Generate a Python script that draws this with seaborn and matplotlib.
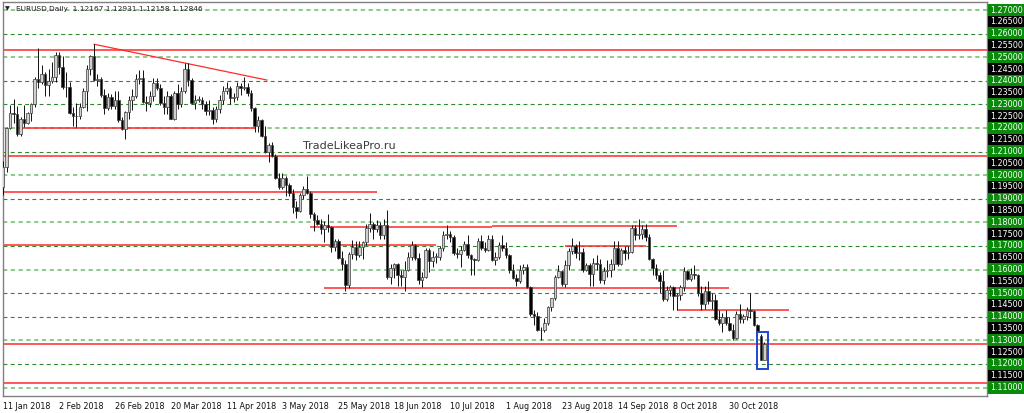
import matplotlib
matplotlib.use('Agg')
import matplotlib.pyplot as plt
from matplotlib.patches import Rectangle
import numpy as np
import pandas as pd
import seaborn as sns

sns.set_style('white')
plt.rcParams['font.family'] = ['DejaVu Sans']

# EURUSD daily bars, 11 Jan 2018 - 13 Nov 2018
dates = pd.bdate_range('2018-01-11', '2018-11-13')

opens = [
    1.1950, 1.2035,
    1.2200, 1.2265, 1.2260, 1.2175, 1.2237,
    1.2222, 1.2262, 1.2300, 1.2408, 1.2397,
    1.2428, 1.2383, 1.2400, 1.2415, 1.2510,
    1.2459, 1.2372, 1.2375, 1.2265, 1.2250,
    1.2250, 1.2290, 1.2355, 1.2450, 1.2505,
    1.2405, 1.2408, 1.2338, 1.2285, 1.2330,
    1.2295, 1.2318, 1.2232, 1.2195, 1.2268,
    1.2317, 1.2337, 1.2408, 1.2410, 1.2310,
    1.2306, 1.2336, 1.2390, 1.2370, 1.2306,
    1.2290, 1.2336, 1.2240, 1.2350, 1.2300,
    1.2355, 1.2450, 1.2405, 1.2305, 1.2320,
    1.2320, 1.2300, 1.2270, 1.2278, 1.2238,
    1.2280, 1.2320, 1.2355, 1.2370, 1.2325,
    1.2330, 1.2380, 1.2370, 1.2375, 1.2350,
    1.2285, 1.2210, 1.2235, 1.2165, 1.2100,
    1.2130, 1.2080, 1.1990, 1.1950, 1.1990,
    1.1960, 1.1925, 1.1865, 1.1850, 1.1915,
    1.1940, 1.1925, 1.1835, 1.1810, 1.1795,
    1.1770, 1.1790, 1.1780, 1.1695, 1.1720,
    1.1650, 1.1625, 1.1535, 1.1665, 1.1695,
    1.1660, 1.1695, 1.1715, 1.1775, 1.1795,
    1.1770, 1.1790, 1.1745, 1.1790, 1.1570,
    1.1605, 1.1625, 1.1575, 1.1570, 1.1600,
    1.1655, 1.1705, 1.1650, 1.1555, 1.1570,
    1.1685, 1.1635, 1.1655, 1.1655, 1.1690,
    1.1745, 1.1750, 1.1740, 1.1670, 1.1665,
    1.1685, 1.1710, 1.1660, 1.1643, 1.1640,
    1.1720, 1.1690, 1.1685, 1.1730, 1.1640,
    1.1655, 1.1705, 1.1690, 1.1660, 1.1600,
    1.1565, 1.1550, 1.1600, 1.1610, 1.1525,
    1.1410, 1.1405, 1.1345, 1.1342, 1.1375,
    1.1440, 1.1478, 1.1570, 1.1595, 1.1540,
    1.1620, 1.1680, 1.1700, 1.1670, 1.1675,
    1.1600, 1.1620, 1.1580, 1.1630, 1.1625,
    1.1555, 1.1595, 1.1600, 1.1625, 1.1690,
    1.1625, 1.1685, 1.1670, 1.1675, 1.1775,
    1.1745, 1.1750, 1.1770, 1.1740, 1.1645,
    1.1605, 1.1575, 1.1550, 1.1475, 1.1515,
    1.1525, 1.1490, 1.1492, 1.1525, 1.1595,
    1.1560, 1.1580, 1.1575, 1.1500, 1.1455,
    1.1510, 1.1465, 1.1470, 1.1390, 1.1375,
    1.1400, 1.1375, 1.1345, 1.1310, 1.1410,
    1.1390, 1.1405, 1.1430, 1.1425, 1.1365,
    1.1320, 1.12167,
]
highs = [
    1.2060, 1.2205,
    1.2296, 1.2323, 1.2295, 1.2245, 1.2297,
    1.2269, 1.2308, 1.2414, 1.2537, 1.2466,
    1.2437, 1.2450, 1.2481, 1.2523, 1.2520,
    1.2506, 1.2437, 1.2394, 1.2290, 1.2305,
    1.2306, 1.2371, 1.2468, 1.2510, 1.2555,
    1.2430, 1.2414, 1.2365, 1.2350, 1.2345,
    1.2355, 1.2355, 1.2245, 1.2273, 1.2336,
    1.2365, 1.2430, 1.2446, 1.2446, 1.2335,
    1.2355, 1.2413, 1.2413, 1.2388, 1.2335,
    1.2357, 1.2345, 1.2355, 1.2388, 1.2375,
    1.2475, 1.2476, 1.2410, 1.2339, 1.2336,
    1.2330, 1.2315, 1.2320, 1.2291, 1.2293,
    1.2340, 1.2380, 1.2396, 1.2376, 1.2349,
    1.2395, 1.2390, 1.2414, 1.2390, 1.2360,
    1.2290, 1.2250, 1.2240, 1.2210, 1.2135,
    1.2140, 1.2090, 1.2010, 1.2010, 1.1995,
    1.1965, 1.1940, 1.1890, 1.1925, 1.1955,
    1.1995, 1.1935, 1.1845, 1.1830, 1.1815,
    1.1805, 1.1834, 1.1785, 1.1730, 1.1730,
    1.1680, 1.1640, 1.1675, 1.1725, 1.1720,
    1.1720, 1.1720, 1.1795, 1.1840, 1.1800,
    1.1810, 1.1800, 1.1815, 1.1852, 1.1625,
    1.1630, 1.1630, 1.1600, 1.1635, 1.1675,
    1.1720, 1.1710, 1.1670, 1.1590, 1.1690,
    1.1690, 1.1680, 1.1670, 1.1700, 1.1765,
    1.1790, 1.1765, 1.1745, 1.1690, 1.1700,
    1.1720, 1.1745, 1.1665, 1.1650, 1.1735,
    1.1745, 1.1715, 1.1745, 1.1745, 1.1675,
    1.1715, 1.1745, 1.1715, 1.1665, 1.1625,
    1.1580, 1.1620, 1.1625, 1.1625, 1.1530,
    1.1430, 1.1420, 1.1355, 1.1395, 1.1445,
    1.1480, 1.1575, 1.1620, 1.1600, 1.1640,
    1.1690, 1.1735, 1.1710, 1.1720, 1.1690,
    1.1630, 1.1630, 1.1650, 1.1660, 1.1645,
    1.1610, 1.1640, 1.1645, 1.1720, 1.1720,
    1.1690, 1.1700, 1.1700, 1.1790, 1.1790,
    1.1815, 1.1790, 1.1795, 1.1750, 1.1650,
    1.1625, 1.1590, 1.1600, 1.1530, 1.1535,
    1.1530, 1.1500, 1.1535, 1.1610, 1.1600,
    1.1605, 1.1620, 1.1580, 1.1530, 1.1530,
    1.1550, 1.1500, 1.1495, 1.1430, 1.1415,
    1.1430, 1.1400, 1.1370, 1.1425, 1.1455,
    1.1410, 1.1440, 1.1500, 1.1430, 1.1370,
    1.1325, 1.12931,
]
lows = [
    1.1915, 1.2015,
    1.2195, 1.2220, 1.2165, 1.2165, 1.2203,
    1.2215, 1.2228, 1.2290, 1.2368, 1.2385,
    1.2335, 1.2337, 1.2390, 1.2397, 1.2430,
    1.2367, 1.2330, 1.2260, 1.2210, 1.2206,
    1.2240, 1.2286, 1.2274, 1.2425, 1.2400,
    1.2380, 1.2330, 1.2260, 1.2275, 1.2280,
    1.2280, 1.2226, 1.2190, 1.2154, 1.2240,
    1.2275, 1.2327, 1.2385, 1.2304, 1.2273,
    1.2290, 1.2313, 1.2360, 1.2297, 1.2260,
    1.2260, 1.2239, 1.2235, 1.2282, 1.2290,
    1.2350, 1.2380, 1.2300, 1.2280, 1.2310,
    1.2280, 1.2255, 1.2255, 1.2215, 1.2225,
    1.2262, 1.2300, 1.2342, 1.2300, 1.2310,
    1.2320, 1.2340, 1.2360, 1.2335, 1.2270,
    1.2182, 1.2185, 1.2160, 1.2095, 1.2055,
    1.2075, 1.1985, 1.1940, 1.1940, 1.1911,
    1.1910, 1.1838, 1.1820, 1.1845, 1.1900,
    1.1920, 1.1820, 1.1763, 1.1790, 1.1750,
    1.1716, 1.1760, 1.1675, 1.1677, 1.1645,
    1.1600, 1.1510, 1.1520, 1.1645, 1.1640,
    1.1655, 1.1645, 1.1705, 1.1760, 1.1730,
    1.1760, 1.1730, 1.1730, 1.1562, 1.1540,
    1.1565, 1.1530, 1.1530, 1.1510, 1.1595,
    1.1640, 1.1640, 1.1540, 1.1525, 1.1565,
    1.1590, 1.1610, 1.1630, 1.1640, 1.1680,
    1.1730, 1.1715, 1.1660, 1.1650, 1.1610,
    1.1680, 1.1650, 1.1575, 1.1575, 1.1635,
    1.1685, 1.1675, 1.1680, 1.1635, 1.1620,
    1.1645, 1.1680, 1.1650, 1.1585, 1.1560,
    1.1530, 1.1545, 1.1580, 1.1520, 1.1405,
    1.1365, 1.1340, 1.1300, 1.1335, 1.1365,
    1.1425, 1.1470, 1.1565, 1.1530, 1.1525,
    1.1600, 1.1665, 1.1650, 1.1640, 1.1590,
    1.1595, 1.1530, 1.1530, 1.1600, 1.1545,
    1.1540, 1.1570, 1.1570, 1.1600, 1.1615,
    1.1620, 1.1640, 1.1645, 1.1670, 1.1725,
    1.1730, 1.1730, 1.1720, 1.1640, 1.1575,
    1.1560, 1.1500, 1.1465, 1.1465, 1.1490,
    1.1430, 1.1430, 1.1470, 1.1510, 1.1555,
    1.1550, 1.1560, 1.1490, 1.1430, 1.1435,
    1.1455, 1.1435, 1.1385, 1.1365, 1.1335,
    1.1365, 1.1340, 1.1300, 1.1305, 1.1375,
    1.1375, 1.1385, 1.1395, 1.1360, 1.1325,
    1.1215, 1.12158,
]
closes = [
    1.2035, 1.2200,
    1.2265, 1.2260, 1.2175, 1.2237, 1.2222,
    1.2262, 1.2300, 1.2408, 1.2397, 1.2428,
    1.2383, 1.2400, 1.2415, 1.2510, 1.2459,
    1.2372, 1.2375, 1.2265, 1.2250, 1.2250,
    1.2290, 1.2355, 1.2450, 1.2505, 1.2405,
    1.2408, 1.2338, 1.2285, 1.2330, 1.2295,
    1.2318, 1.2232, 1.2195, 1.2268, 1.2317,
    1.2337, 1.2408, 1.2410, 1.2310, 1.2306,
    1.2336, 1.2390, 1.2370, 1.2306, 1.2290,
    1.2336, 1.2240, 1.2350, 1.2300, 1.2355,
    1.2450, 1.2405, 1.2305, 1.2320, 1.2320,
    1.2300, 1.2270, 1.2278, 1.2238, 1.2280,
    1.2320, 1.2355, 1.2370, 1.2325, 1.2330,
    1.2380, 1.2370, 1.2375, 1.2350, 1.2285,
    1.2210, 1.2235, 1.2165, 1.2100, 1.2130,
    1.2080, 1.1990, 1.1950, 1.1990, 1.1960,
    1.1925, 1.1865, 1.1850, 1.1915, 1.1940,
    1.1925, 1.1835, 1.1810, 1.1795, 1.1770,
    1.1790, 1.1780, 1.1695, 1.1720, 1.1650,
    1.1625, 1.1535, 1.1665, 1.1695, 1.1660,
    1.1695, 1.1715, 1.1775, 1.1795, 1.1770,
    1.1790, 1.1745, 1.1790, 1.1570, 1.1605,
    1.1625, 1.1575, 1.1570, 1.1600, 1.1655,
    1.1705, 1.1650, 1.1555, 1.1570, 1.1685,
    1.1635, 1.1655, 1.1655, 1.1690, 1.1745,
    1.1750, 1.1740, 1.1670, 1.1665, 1.1685,
    1.1710, 1.1660, 1.1643, 1.1640, 1.1720,
    1.1690, 1.1685, 1.1730, 1.1640, 1.1655,
    1.1705, 1.1690, 1.1660, 1.1600, 1.1565,
    1.1550, 1.1600, 1.1610, 1.1525, 1.1410,
    1.1405, 1.1345, 1.1342, 1.1375, 1.1440,
    1.1478, 1.1570, 1.1595, 1.1540, 1.1620,
    1.1680, 1.1700, 1.1670, 1.1675, 1.1600,
    1.1620, 1.1580, 1.1630, 1.1625, 1.1555,
    1.1595, 1.1600, 1.1625, 1.1690, 1.1625,
    1.1685, 1.1670, 1.1675, 1.1775, 1.1745,
    1.1750, 1.1770, 1.1740, 1.1645, 1.1605,
    1.1575, 1.1550, 1.1475, 1.1515, 1.1525,
    1.1490, 1.1492, 1.1525, 1.1595, 1.1560,
    1.1580, 1.1575, 1.1500, 1.1455, 1.1510,
    1.1465, 1.1470, 1.1390, 1.1375, 1.1400,
    1.1375, 1.1345, 1.1310, 1.1410, 1.1390,
    1.1405, 1.1430, 1.1425, 1.1365, 1.1335,
    1.12167, 1.12846,
]

# drawn levels: (price, first bar, last bar); None = whole width
red_levels = [
    (1.2530, None, None),
    (1.2201, 4, 72),
    (1.2081, None, None),
    (1.1928, None, 107),
    (1.1780, 88, 140),
    (1.1784, 140, 193),
    (1.1704, None, 124),
    (1.1700, 161, 184),
    (1.1521, 92, 208),
    (1.1429, 193, 225),
    (1.1285, None, None),
    (1.1118, None, None),
]
trend_bars = [26, 75.6]
trend_prices = [1.2555, 1.2403]
highlight_bars = [217, 218]

grid_levels = [1.27, 1.26, 1.25, 1.24, 1.23, 1.22, 1.21, 1.20, 1.19,
               1.18, 1.17, 1.16, 1.15, 1.14, 1.13, 1.12, 1.11]
light_grid = [1.27, 1.25, 1.22, 1.20, 1.18, 1.16, 1.13, 1.11]
price_labels = [f'{1.27 - 0.005 * k:.5f}' for k in range(33)]

header = 'EURUSD,Daily  1.12167 1.12931 1.12158 1.12846'
watermark = 'TradeLikeaPro.ru'

n = len(dates)
assert n == len(opens) == len(highs) == len(lows) == len(closes)
df = pd.DataFrame({'open': opens, 'high': highs, 'low': lows, 'close': closes})
df['bar'] = np.arange(n)
df['up'] = df['close'] >= df['open']

W, H = 1024, 413
fig = plt.figure(figsize=(W / 100, H / 100), dpi=100)
ax = fig.add_axes([3 / W, 17 / H, 984 / W, 394 / H])
xmin, xmax = -0.05, 281.8
ax.set_xlim(xmin, xmax)
ax.set_ylim(1.10644, 1.27339)

# grid
for lv in grid_levels:
    if lv in light_grid:
        ax.axhline(lv, color='#8acb8a', lw=1.4, ls=(0, (2.2, 1.8)), zorder=1)
    else:
        ax.axhline(lv, color='#2a8a2a', lw=0.8, ls=(0, (3.5, 3)), zorder=1)

# red support / resistance levels
for price, b0, b1 in red_levels:
    x0 = xmin if b0 is None else b0
    x1 = xmax if b1 is None else b1
    ax.hlines(price, x0, x1, color='#ff2a2a', lw=1.1, zorder=2)

sns.lineplot(x=trend_bars, y=trend_prices, color='#ff2a2a', lw=0.9, ax=ax, zorder=2)

# candles
ax.vlines(df['bar'], df['low'], df['high'], color='#111111', lw=0.7, zorder=3)
body_lo = np.minimum(df['open'], df['close'])
body_h = np.maximum(np.abs(df['close'] - df['open']), 0.0002)
face = np.where(df['up'], '#cfcfcf', 'black')
ax.bar(df['bar'], body_h, bottom=body_lo, width=0.72, color=face,
       edgecolor='#3a3a3a', linewidth=0.5, zorder=4)

# highlighted last bars
hb = df[df['bar'].isin(highlight_bars)]
bx0 = hb['bar'].min() - 1.0
bx1 = hb['bar'].max() + 1.2
by0 = hb['low'].min() - 0.0037
by1 = hb['high'].max() + 0.0011
ax.add_patch(Rectangle((bx0, by0), bx1 - bx0, by1 - by0, fill=False,
                       edgecolor='#1f44d8', lw=1.4, zorder=5))

# price scale on the right
ytr = ax.get_yaxis_transform()
for lab in price_labels:
    p = float(lab)
    green = abs(round(p * 100) - p * 100) < 1e-6
    ax.text(1 + 3 / 984, p, lab, transform=ytr, ha='left', va='center',
            fontsize=5.8, color='white', clip_on=False,
            bbox=dict(boxstyle='square,pad=0.2', fc='#0a8a0a' if green else 'black',
                      ec='none'))
ax.set_yticks([])

# time scale
tick_bars = list(range(0, n, 16))
tick_labels = [f'{dates[i].day} {dates[i]:%b %Y}' for i in tick_bars]
ax.set_xticks(tick_bars)
ax.set_xticklabels(tick_labels, fontsize=5.8, ha='left', color='#111111')
ax.tick_params(axis='x', direction='out', length=3, width=0.8, color='#333333', pad=1.5)

for s in ax.spines.values():
    s.set_color('#808080')
    s.set_linewidth(1.0)

fig.text(5 / W, 1 - 9 / H, '\u25bc', fontsize=4.5, va='center', ha='left', color='#222222')
fig.text(16 / W, 1 - 9.5 / H, header, fontsize=5.3, va='center', ha='left', color='#222222')
fig.text(303 / W, 1 - 146 / H, watermark, fontsize=8, va='center', ha='left', color='#3a3a3a')

fig.savefig('out.png', dpi=100)
